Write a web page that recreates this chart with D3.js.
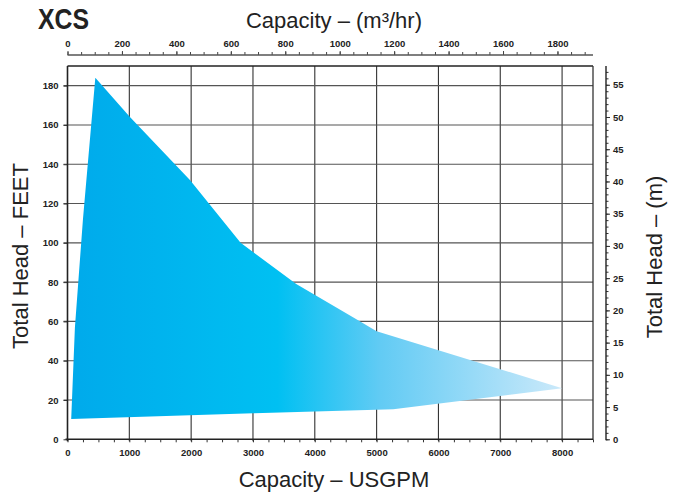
<!DOCTYPE html>
<html>
<head>
<meta charset="utf-8">
<script src="https://cdn.jsdelivr.net/npm/d3@7"></script>
<style>
  body { margin: 0; background: #fff; }
  .tick text { font-family: "Liberation Sans", Arial, sans-serif; font-weight: bold; font-size: 9.5px; }
  .title { font-family: "Liberation Sans", Arial, sans-serif; font-size: 22px; fill: #222; }
</style>
</head>
<body>
<svg id="chart" width="678" height="493"></svg>
<script>
// pump envelope (USGPM, feet)
const flowGpm = [60, 120, 250, 450, 1010, 1980, 2800, 3700, 4680, 5000, 8000, 5270, 3000, 60];
const headFt  = [10.3, 57, 112, 184, 164, 132, 100, 79, 61, 55, 26, 15.3, 13.2, 10.3];

const gpmTicks = [0, 1000, 2000, 3000, 4000, 5000, 6000, 7000, 8000];
const feetTicks = [0, 20, 40, 60, 80, 100, 120, 140, 160, 180];
const m3hTicks = [0, 200, 400, 600, 800, 1000, 1200, 1400, 1600, 1800];
const meterTicks = [0, 5, 10, 15, 20, 25, 30, 35, 40, 45, 50, 55];

const GPM_PER_M3H = 4.4029;
const FT_PER_M = 3.2808;

(function() {
    var svg = d3.select('#chart');

    var pLeft = 67.5, pRight = 593, pTop = 66, pBottom = 439.3;

    var x = d3.scaleLinear().domain([0, 8500]).range([pLeft, pRight]);
    var y = d3.scaleLinear().domain([0, 190]).range([pBottom, pTop]);
    var xm = d3.scaleLinear().domain([0, 8500 / GPM_PER_M3H]).range([pLeft, pRight]);
    var ym = d3.scaleLinear().domain([0, 190 / FT_PER_M]).range([pBottom, pTop]);

    /* gradient for the envelope */
    var grad = svg.append('defs').append('linearGradient')
        .attr('id', 'fillGrad')
        .attr('gradientUnits', 'userSpaceOnUse')
        .attr('x1', x(60)).attr('x2', x(8000))
        .attr('y1', 0).attr('y2', 0);
    grad.append('stop').attr('offset', 0).attr('stop-color', '#00aaeb');
    grad.append('stop').attr('offset', 0.42).attr('stop-color', '#00c0f2');
    grad.append('stop').attr('offset', 0.63).attr('stop-color', '#62cbf4');
    grad.append('stop').attr('offset', 1).attr('stop-color', '#cbe9fa');

    /* grid */
    var grid = svg.append('g');
    grid.selectAll('line.v').data(gpmTicks.slice(1))
        .enter().append('line')
        .attr('x1', d => x(d)).attr('x2', d => x(d))
        .attr('y1', pTop).attr('y2', pBottom + 2)
        .attr('stroke', '#333').attr('stroke-width', 1.1);
    grid.selectAll('line.h').data(feetTicks.slice(1))
        .enter().append('line')
        .attr('x1', pLeft - 4).attr('x2', pRight)
        .attr('y1', d => y(d)).attr('y2', d => y(d))
        .attr('stroke', '#555').attr('stroke-width', 1.1);

    // frame top + right
    svg.append('line').attr('x1', pLeft).attr('x2', pRight).attr('y1', pTop).attr('y2', pTop)
        .attr('stroke', '#222').attr('stroke-width', 1.3);
    svg.append('line').attr('x1', pRight).attr('x2', pRight).attr('y1', pTop).attr('y2', pBottom)
        .attr('stroke', '#333').attr('stroke-width', 1.3);

    /* envelope */
    var pts = flowGpm.map((d, i) => [d, headFt[i]]);
    svg.append('path')
        .attr('d', d3.line().x(d => x(d[0])).y(d => y(d[1]))(pts) + 'Z')
        .attr('fill', 'url(#fillGrad)');

    /* bottom axis */
    var bMinor = svg.append('g')
        .attr('transform', 'translate(0,' + pBottom + ')')
        .call(d3.axisBottom(x).tickValues(d3.range(0, 8501, 250)).tickSize(3).tickFormat(''));
    bMinor.select('.domain').remove();
    bMinor.selectAll('line').attr('stroke', '#333');
    var bAxis = svg.append('g')
        .attr('transform', 'translate(0,' + pBottom + ')')
        .call(d3.axisBottom(x).tickValues(gpmTicks).tickSize(0).tickPadding(10).tickFormat(d3.format('d')));
    bAxis.select('.domain').remove();
    svg.append('line').attr('x1', pLeft - 2).attr('x2', pRight).attr('y1', pBottom).attr('y2', pBottom)
        .attr('stroke', '#222').attr('stroke-width', 1.6);

    /* left axis */
    var lAxis = svg.append('g')
        .attr('transform', 'translate(' + pLeft + ',0)')
        .call(d3.axisLeft(y).tickValues(feetTicks).tickSize(4).tickPadding(5));
    lAxis.select('.domain').remove();
    lAxis.selectAll('line').attr('stroke', '#333');
    svg.append('line').attr('x1', pLeft).attr('x2', pLeft).attr('y1', pTop).attr('y2', pBottom + 2)
        .attr('stroke', '#222').attr('stroke-width', 1.6);

    /* top axis, m3/hr */
    var tAxisY = 55;
    var tMinor = svg.append('g')
        .attr('transform', 'translate(0,' + tAxisY + ')')
        .call(d3.axisTop(xm).tickValues(d3.range(0, 1931, 50)).tickSize(3).tickFormat(''));
    tMinor.select('.domain').remove();
    tMinor.selectAll('line').attr('stroke', '#444');
    var tAxis = svg.append('g')
        .attr('transform', 'translate(0,' + tAxisY + ')')
        .call(d3.axisTop(xm).tickValues(m3hTicks).tickSize(4).tickPadding(4).tickFormat(d3.format('d')));
    tAxis.select('.domain').remove();
    tAxis.selectAll('line').attr('stroke', '#444');
    svg.append('line').attr('x1', pLeft).attr('x2', pRight).attr('y1', tAxisY).attr('y2', tAxisY)
        .attr('stroke', '#555').attr('stroke-width', 1.4);

    /* right axis, metres */
    var rAxisX = 606;
    var rMinor = svg.append('g')
        .attr('transform', 'translate(' + rAxisX + ',0)')
        .call(d3.axisRight(ym).tickValues(d3.range(0, 58, 1)).tickSize(2.5).tickFormat(''));
    rMinor.select('.domain').remove();
    rMinor.selectAll('line').attr('stroke', '#333');
    var rAxis = svg.append('g')
        .attr('transform', 'translate(' + rAxisX + ',0)')
        .call(d3.axisRight(ym).tickValues(meterTicks).tickSize(4).tickPadding(3));
    rAxis.select('.domain').remove();
    rAxis.selectAll('line').attr('stroke', '#333');
    svg.append('line').attr('x1', rAxisX).attr('x2', rAxisX).attr('y1', pTop).attr('y2', pBottom + 1)
        .attr('stroke', '#222').attr('stroke-width', 1.4);

    svg.selectAll('.tick text').attr('fill', '#222');

    /* titles */
    svg.append('text')
        .attr('x', 38).attr('y', 29)
        .attr('font-family', '"Liberation Sans Narrow", "Liberation Sans", Arial, sans-serif')
        .attr('font-weight', 'bold').attr('font-size', 30)
        .attr('textLength', 51).attr('lengthAdjust', 'spacingAndGlyphs')
        .attr('fill', '#222')
        .text('XCS');

    svg.append('text').attr('class', 'title')
        .attr('x', 334).attr('y', 28).attr('text-anchor', 'middle')
        .text('Capacity – (m³/hr)');

    svg.append('text').attr('class', 'title')
        .attr('x', 334).attr('y', 487).attr('text-anchor', 'middle')
        .text('Capacity – USGPM');

    svg.append('text').attr('class', 'title')
        .attr('transform', 'translate(28,256) rotate(-90)')
        .attr('text-anchor', 'middle')
        .text('Total Head – FEET');

    svg.append('text').attr('class', 'title')
        .attr('transform', 'translate(662,257) rotate(-90)')
        .attr('text-anchor', 'middle')
        .text('Total Head – (m)');
})();
</script>
</body>
</html>
